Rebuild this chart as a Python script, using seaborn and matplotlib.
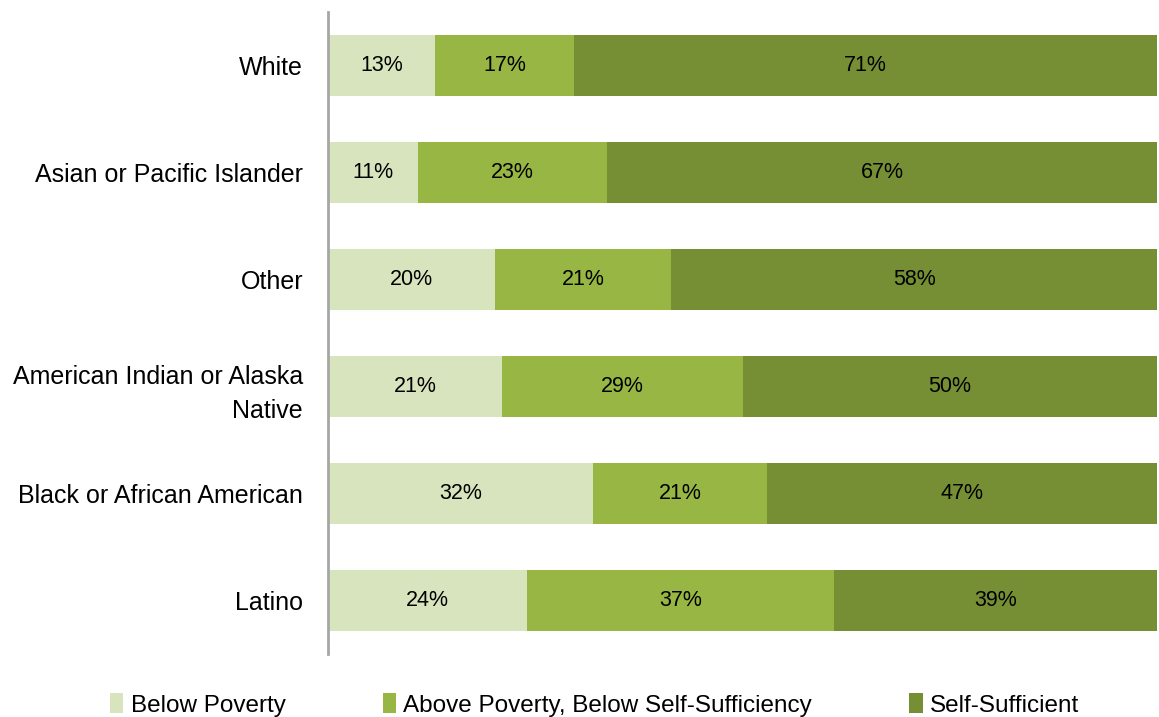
import matplotlib
matplotlib.use("Agg")
import matplotlib.pyplot as plt
import seaborn as sns
import numpy as np
import pandas as pd
from matplotlib.patches import Patch

categories = ["White", "Asian or Pacific Islander", "Other",
              "American Indian or Alaska\nNative", "Black or African American", "Latino"]
below_poverty = [13, 11, 20, 21, 32, 24]
above_poverty = [17, 23, 21, 29, 21, 37]
self_sufficient = [71, 67, 58, 50, 47, 39]
series_names = ["Below Poverty", "Above Poverty, Below Self-Sufficiency", "Self-Sufficient"]
colors = ["#D7E4BD", "#97B643", "#778F34"]

sns.set_theme(style="white")
plt.rcParams['font.family'] = ['Liberation Sans', 'DejaVu Sans']
plt.rcParams['text.color'] = 'black'
plt.rcParams['ytick.color'] = 'black'

vals = np.array([below_poverty, above_poverty, self_sufficient], dtype=float)
shares = vals / vals.sum(axis=0) * 100
cum = np.cumsum(shares, axis=0)

fig = plt.figure(figsize=(11.59, 7.17), dpi=100)
ax = fig.add_axes([328/1159, 1-654/717, (1157-328)/1159, 642/717])

for i in [2, 1, 0]:
    df = pd.DataFrame({"cat": categories, "val": cum[i]})
    sns.barplot(data=df, x="val", y="cat", orient="h", color=colors[i],
                width=0.57, ax=ax, saturation=1, linewidth=0, order=categories)

for j in range(len(categories)):
    left = 0
    for i in range(3):
        ax.text(left + shares[i, j] / 2, j, f"{int(vals[i, j])}%", ha="center", va="center",
                fontsize=15.5, color="black")
        left += shares[i, j]

ax.set_xlim(0, 100)
ax.set_ylim(5.5, -0.5)
ax.set_xlabel("")
ax.set_ylabel("")
ax.set_xticks([])
ax.tick_params(axis="y", length=0, pad=18, labelsize=18, labelcolor="black")
for lbl in ax.get_yticklabels():
    lbl.set_horizontalalignment("right")
    lbl.set_multialignment("right")
    lbl.set_linespacing(1.55)
for s in ["top", "right", "bottom"]:
    ax.spines[s].set_visible(False)
ax.spines["left"].set_color("#A6A6A6")
ax.spines["left"].set_linewidth(2)

handles = [Patch(facecolor=c, edgecolor="none") for c in colors]
leg = fig.legend(handles, series_names, loc="lower left", bbox_to_anchor=(88/1159, -0.03),
                 ncol=3, frameon=False, fontsize=17.5, handlelength=0.55, handleheight=0.9,
                 handletextpad=0.3, columnspacing=4.0)
for t in leg.get_texts():
    t.set_color("black")

fig.savefig("out.png", dpi=100)
